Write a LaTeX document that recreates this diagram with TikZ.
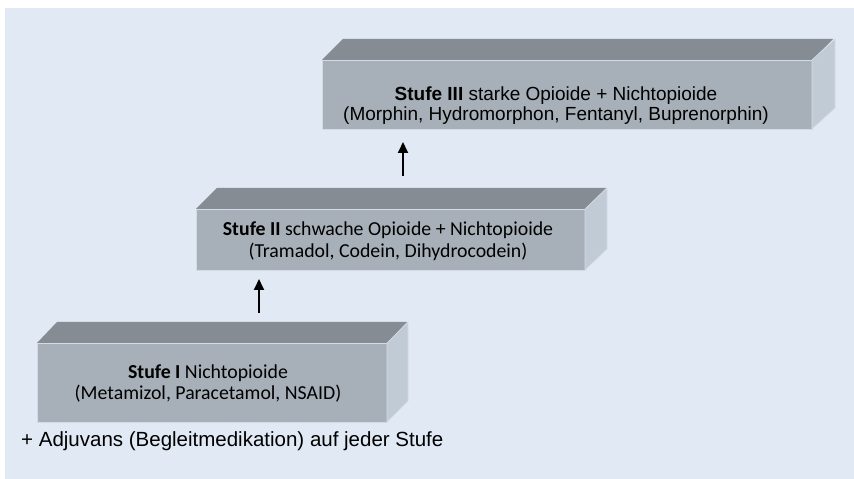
\documentclass[tikz,border=0pt]{standalone}
\usepackage{fontspec}
\setmainfont{Liberation Sans}
\newfontfamily\calibri{Carlito}
\usetikzlibrary{arrows.meta,calc}
\definecolor{hgblau}{HTML}{E0E9F4}
\definecolor{vorne}{HTML}{A7B0B8}
\definecolor{oben}{HTML}{858C93}
\definecolor{seite}{HTML}{C1CBD6}
\definecolor{kante}{HTML}{D3DCE6}
\tikzset{
    front/.style={rectangle,fill=vorne,draw=kante,line width=0.6pt,inner sep=0pt,outer sep=0pt},
    topface/.style={fill=oben},
    sideface/.style={fill=seite,draw=kante,line width=0.6pt},
    stufetxt/.style={align=center,inner sep=0pt},
    pfeil/.style={line width=1.8pt,-{Triangle[length=11pt,width=10pt]}}
}
\begin{document}
\begin{tikzpicture}[x=1pt,y=1pt]
    \useasboundingbox (0,0) rectangle (854,479);
    \fill[hgblau] (5,0) rectangle (854,471);
    % Stufe III
    \node[front,minimum width=490,minimum height=69,anchor=south west] (s3) at (322,350) {};
    \fill[topface] (s3.north west) -- ++(21,21) -- ++(490,0) -- (s3.north east) -- cycle;
    \draw[sideface] (s3.north east) -- ++(23,21) -- ++(0,-69) -- (s3.south east) -- cycle;
    \node[stufetxt,font=\fontsize{19}{20}\selectfont] (t3) at (556,373)
        {\textbf{Stufe III} starke Opioide + Nichtopioide\\(Morphin, Hydromorphon, Fentanyl, Buprenorphin)};
    % Stufe II
    \node[front,minimum width=389,minimum height=61,anchor=south west] (s2) at (196,209) {};
    \fill[topface] (s2.north west) -- ++(21,21) -- ++(389,0) -- (s2.north east) -- cycle;
    \draw[sideface] (s2.north east) -- ++(22,21) -- ++(0,-61) -- (s2.south east) -- cycle;
    \node[stufetxt,font=\calibri\fontsize{19.8}{22}\selectfont] (t2) at (388,237.5)
        {\textbf{Stufe II} schwache Opioide + Nichtopioide\\(Tramadol, Codein, Dihydrocodein)};
    % Stufe I
    \node[front,minimum width=350,minimum height=79,anchor=south west] (s1) at (37,57) {};
    \fill[topface] (s1.north west) -- ++(20,21) -- ++(350,0) -- (s1.north east) -- cycle;
    \draw[sideface] (s1.north east) -- ++(21,21) -- ++(0,-79) -- (s1.south east) -- cycle;
    \node[stufetxt,font=\calibri\fontsize{19.8}{21}\selectfont] (t1) at (208,96)
        {\textbf{Stufe I} Nichtopioide\\(Metamizol, Paracetamol, NSAID)};
    \node[anchor=west,inner sep=0pt,font=\fontsize{20.5}{20}\selectfont] (adj) at (21,38)
        {+ Adjuvans (Begleitmedikation) auf jeder Stufe};
    % Pfeile
    \coordinate (a1) at (403,303);
    \coordinate (a2) at (259,166);
    \draw[pfeil,shorten >=13pt] (a1) -- (a1 |- s3.south);
    \draw[pfeil,shorten >=9pt] (a2) -- (a2 |- s2.south);
\end{tikzpicture}
\end{document}
